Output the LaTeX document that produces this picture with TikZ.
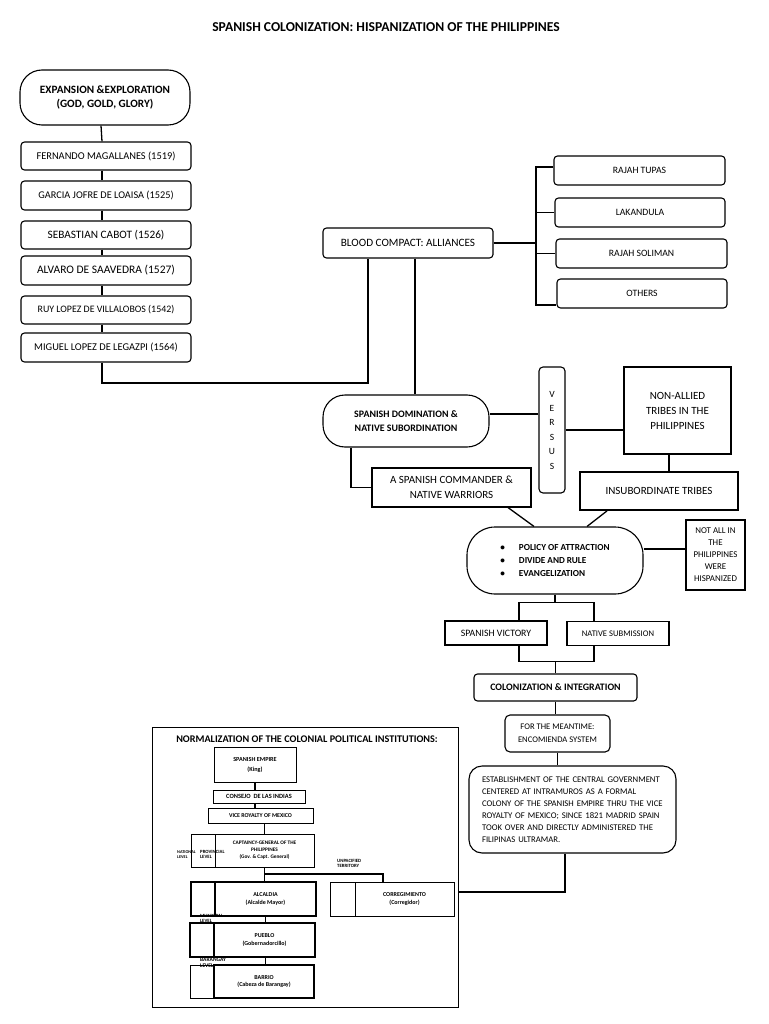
\documentclass[tikz,border=0pt]{standalone}
\usepackage{fontspec}
\setmainfont{Carlito}
\newcommand\fz[2]{\fontsize{#1}{#2}\selectfont}
\begin{document}
\begin{tikzpicture}[x=1pt,y=-1pt,
  every node/.style={inner sep=0pt, align=center, text=black},
  rbox/.style={draw, line width=1.1pt, rounded corners=3.5pt},
  sbox/.style={draw, line width=1.1pt},
  tbox/.style={draw, line width=1.8pt},
  ibox/.style={draw, line width=0.8pt},
  kbox/.style={draw, line width=1.6pt},
  conn/.style={line width=1.3pt},
  iconn/.style={line width=1.2pt},
  lvl/.style={font=\fz{4.8}{5.5}\bfseries, align=left, anchor=north west},
  itxt/.style={font=\fz{6}{7.5}\bfseries}]
\fill[white] (0,0) rectangle (768,1024);
\useasboundingbox (0,0) rectangle (768,1024);

\node[font=\fz{13.6}{15}\bfseries] (title) at (386,27) {SPANISH COLONIZATION: HISPANIZATION OF THE PHILIPPINES};

% left column
\node[rbox, rounded corners=22pt, minimum width=170pt, minimum height=55pt, font=\fz{11.2}{14}\bfseries] (exp) at (105,97.5) {EXPANSION \&EXPLORATION\\(GOD, GOLD, GLORY)};
\node[rbox, minimum width=170pt, minimum height=28pt, font=\fz{10.4}{11}] (fer) at (106,156) {FERNANDO MAGALLANES (1519)};
\node[rbox, minimum width=170pt, minimum height=29pt, font=\fz{10.3}{11}] (gar) at (106,195.5) {GARCIA JOFRE DE LOAISA (1525)};
\node[rbox, minimum width=170pt, minimum height=28pt, font=\fz{11.3}{12}] (seb) at (106,235) {SEBASTIAN CABOT (1526)};
\node[rbox, minimum width=170pt, minimum height=29pt, font=\fz{11.5}{12}] (alv) at (106,270.5) {ALVARO DE SAAVEDRA (1527)};
\node[rbox, minimum width=170pt, minimum height=28pt, font=\fz{9.9}{11}] (ruy) at (106,310) {RUY LOPEZ DE VILLALOBOS (1542)};
\node[rbox, minimum width=170pt, minimum height=29pt, font=\fz{10.4}{11}] (mig) at (106,347.5) {MIGUEL LOPEZ DE LEGAZPI (1564)};

\draw[conn] ([xshift=-4pt]exp.south) -- ([xshift=-4pt]fer.north);
\draw[conn] ([xshift=-4pt]fer.south) -- ([xshift=-4pt]gar.north);
\draw[conn] ([xshift=-4pt]gar.south) -- ([xshift=-4pt]seb.north);
\draw[conn] ([xshift=-4pt]seb.south) -- ([xshift=-4pt]alv.north);
\draw[conn] ([xshift=-4pt]alv.south) -- ([xshift=-4pt]ruy.north);
\draw[conn] ([xshift=-4pt]ruy.south) -- ([xshift=-4pt]mig.north);

% blood compact and allies
\node[rbox, minimum width=170pt, minimum height=30pt, font=\fz{11.2}{12}] (bc) at (408,243) {BLOOD COMPACT: ALLIANCES};
\node[rbox, minimum width=171pt, minimum height=29pt, font=\fz{9.7}{11}] (rt) at (639.5,170.5) {RAJAH TUPAS};
\node[rbox, minimum width=170pt, minimum height=29pt, font=\fz{9.7}{11}] (lak) at (640,212.5) {LAKANDULA};
\node[rbox, minimum width=171pt, minimum height=29pt, font=\fz{9.7}{11}] (sol) at (641.5,253.5) {RAJAH SOLIMAN};
\node[rbox, minimum width=170pt, minimum height=29pt, font=\fz{9.7}{11}] (oth) at (642,293.5) {OTHERS};

\coordinate (busB) at (536,305);
\coordinate (j1) at (368,383);
\draw[conn] ([xshift=-4pt]mig.south) |- (j1) -- (j1 |- bc.south);
\draw[conn] ([yshift=3.5pt]rt.west) -| (busB) -- (busB -| oth.west);
\draw[conn] (lak.west) -- (lak.west -| busB);
\draw[conn] (sol.west) -- (sol.west -| busB);
\draw[conn] (bc.east) -- (bc.east -| busB);

% domination vs tribes
\node[rbox, rounded corners=22pt, minimum width=166pt, minimum height=52pt, font=\fz{9.9}{14}\bfseries] (dom) at (406,421) {SPANISH DOMINATION \&\\NATIVE SUBORDINATION};
\node[rbox, rounded corners=4pt, minimum width=26pt, minimum height=126pt, font=\fz{9.5}{14.4}] (vs) at (552,430) {V\\E\\R\\S\\U\\S};
\node[tbox, minimum width=107pt, minimum height=87pt, font=\fz{11}{15}] (na) at (677.5,410.5) {NON-ALLIED\\TRIBES IN THE\\PHILIPPINES};
\node[tbox, minimum width=158pt, minimum height=38pt, font=\fz{11}{13}] (ins) at (659,491) {INSUBORDINATE TRIBES};
\node[sbox, minimum width=159pt, minimum height=39pt, font=\fz{11}{15}] (cmd) at (451.5,487.5) {A SPANISH COMMANDER \&\\NATIVE WARRIORS};

\draw[conn] ([xshift=7pt]bc.south) -- ([xshift=7pt]bc.south |- dom.north);
\draw[conn] ([yshift=7pt]dom.east) -- ([yshift=7pt]dom.east -| vs.west);
\draw[conn] (vs.east) -- (vs.east -| na.west);
\draw[conn] ([xshift=-8.5pt]na.south) -- ([xshift=-8.5pt]na.south |- ins.north);
\draw[conn] ([xshift=-55pt]dom.south) |- (cmd.west);

% policy
\node[rbox, rounded corners=28pt, minimum width=176pt, minimum height=67pt, font=\fz{9.2}{12.7}\bfseries, align=left] (pol) at (555,560.5) {\textbullet\hspace{14pt}POLICY OF ATTRACTION\\\textbullet\hspace{14pt}DIVIDE AND RULE\\\textbullet\hspace{14pt}EVANGELIZATION};
\node[sbox, minimum width=59pt, minimum height=70pt, font=\fz{8.9}{12}] (nab) at (715.5,555) {NOT ALL IN\\THE\\PHILIPPINES\\WERE\\HISPANIZED};
\draw[conn] ([xshift=56.5pt]cmd.south) -- ([xshift=-21pt]pol.north);
\draw[conn] ([xshift=-52pt]ins.south) -- ([xshift=32pt]pol.north);
\draw[conn] ([yshift=11.5pt]pol.east) -- ([yshift=11.5pt]pol.east -| nab.west);

\node[sbox, minimum width=102pt, minimum height=24pt, font=\fz{9.8}{11}] (sv) at (496,633) {SPANISH VICTORY};
\node[sbox, minimum width=102pt, minimum height=24pt, font=\fz{8.6}{10}] (ns) at (618,633.5) {NATIVE SUBMISSION};
\draw[conn] (pol.south) -- ([yshift=-8pt]pol.south);
\draw[conn] ([xshift=23pt]sv.north) |- ([yshift=-8pt]pol.south) -| ([xshift=-24pt]ns.north);

\node[rbox, minimum width=163pt, minimum height=27pt, font=\fz{9.9}{11}\bfseries] (col) at (555.5,687.5) {COLONIZATION \& INTEGRATION};
\draw[conn] ([xshift=23pt]sv.south) |- ([yshift=12pt]col.north) -| ([xshift=-24pt]ns.south);
\draw[conn] (col.north) -- ([yshift=12pt]col.north);

\node[rbox, rounded corners=5pt, minimum width=105pt, minimum height=37pt, font=\fz{8.6}{13}] (mt) at (557.5,733.5) {FOR THE MEANTIME:\\ENCOMIENDA SYSTEM};
\draw[conn] (col.south) -- (col.south |- mt.north);
\node[rbox, rounded corners=13pt, text width=181pt, inner xsep=13pt, minimum height=87pt, font=\fz{8.7}{12}, align=left] (est) at (572.5,809.5) {ESTABLISHMENT OF THE CENTRAL GOVERNMENT\\CENTERED AT INTRAMUROS AS A FORMAL\\COLONY OF THE SPANISH EMPIRE THRU THE VICE\\ROYALTY OF MEXICO; SINCE 1821 MADRID SPAIN\\TOOK OVER AND DIRECTLY ADMINISTERED THE\\FILIPINAS ULTRAMAR.};
\draw[conn] (mt.south) -- (mt.south |- est.north);

% institutions
\node[draw, line width=1pt, minimum width=306pt, minimum height=280pt] (inst) at (305,867) {};
\draw[conn] ([xshift=-7.5pt]est.south) |- ([yshift=-25pt]inst.east);
\node[font=\fz{10.2}{12}\bfseries] (insttitle) at (307,739.5) {NORMALIZATION OF THE COLONIAL POLITICAL INSTITUTIONS:};

\node[ibox, minimum width=82pt, minimum height=35pt, font=\fz{6.2}{10}\bfseries] (emp) at (255,764.5) {SPANISH EMPIRE\\(King)};
\node[ibox, minimum width=92pt, minimum height=13pt, font=\fz{6.4}{8}\bfseries] (con) at (259,796.5) {CONSEJO\ \ DE LAS INDIAS};
\node[ibox, minimum width=105pt, minimum height=15pt, font=\fz{5.9}{8}\bfseries] (vic) at (260.5,815.5) {VICE ROYALTY OF MEXICO};

\node[ibox, minimum width=24pt, minimum height=33pt] (capL) at (203,850.5) {};
\node[ibox, minimum width=99pt, minimum height=33pt, font=\fz{5.3}{7}\bfseries] (capR) at (264.5,850.5) {CAPTAINCY-GENERAL OF THE\\PHILIPPINES\\(Gov. \& Capt. General)};
\node[kbox, minimum width=24pt, minimum height=34pt] (alcL) at (203,899) {};
\node[kbox, minimum width=101pt, minimum height=34pt, itxt] (alcR) at (265.5,899) {ALCALDIA\\(Alcalde Mayor)};
\node[ibox, minimum width=25pt, minimum height=34pt] (corL) at (342.5,899) {};
\node[ibox, minimum width=99pt, minimum height=34pt, itxt] (corR) at (404.5,899) {CORREGIMIENTO\\(Corregidor)};
\node[kbox, line width=1.4pt, minimum width=24pt, minimum height=34pt] (pueL) at (202,940) {};
\node[ibox, line width=1.1pt, minimum width=101pt, minimum height=34pt, itxt] (pueR) at (264.5,940) {PUEBLO\\(Gobernadorcillo)};
\node[ibox, minimum width=24pt, minimum height=33pt] (barL) at (202,981.5) {};
\node[kbox, line width=1.4pt, minimum width=100pt, minimum height=33pt, itxt] (barR) at (264,981.5) {BARRIO\\(Cabeza de Barangay)};

\node[lvl, font=\fz{4.3}{5.5}\bfseries] (natl) at (177,850) {NATIONAL\\LEVEL};
\node[lvl] (prov) at (200,850) {PROVINCIAL\\LEVEL};
\node[lvl] (unpt) at (337,859) {UNPACIFIED\\TERRITORY};
\node[lvl] (muni) at (200,914) {MUNICIPAL\\LEVEL};
\node[lvl, font=\fz{5.5}{6.5}\bfseries] (bara) at (200,957.5) {BARANGAY\\LEVEL};

\coordinate (uj) at (383,874);
\draw[iconn] (emp.south) -- (emp.south |- con.north);
\draw[iconn] (emp.south |- con.south) -- (emp.south |- vic.north);
\draw[iconn] (capR.north |- vic.south) -- (capR.north);
\draw[iconn] (capR.south) -- (capR.south |- alcR.north);
\draw[iconn] (capR.south) |- (uj) -- (uj |- corR.north);
\draw[iconn] (alcR.south) -- (alcR.south |- pueR.north);
\draw[iconn] (alcR.south |- pueR.south) -- (alcR.south |- barR.north);
\end{tikzpicture}
\end{document}
